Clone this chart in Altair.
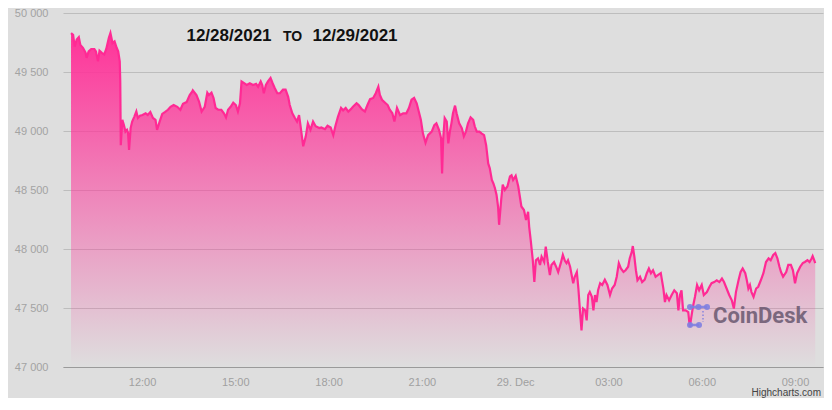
import altair as alt
import pandas as pd

# minutes since 2021-12-28 00:00
minutes = [
    583, 587, 590, 594, 598, 601, 606, 611, 613, 617,
    622, 628, 631, 635, 638, 643, 647, 651, 656, 659,
    663, 667, 671, 674, 677, 678, 679, 682, 685, 688,
    691, 693, 695, 698, 701, 705, 709, 712, 716, 721,
    727, 731, 736, 741, 746, 749, 754, 759, 764, 770,
    775, 781, 788, 794, 799, 806, 812, 817, 818, 825,
    830, 835, 841, 846, 849, 854, 858, 862, 867, 873,
    878, 882, 886, 891, 896, 901, 905, 909, 912, 917,
    922, 928, 934, 940, 944, 949, 952, 955, 959, 963,
    968, 972, 976, 981, 986, 992, 997, 1002, 1005, 1010,
    1015, 1019, 1023, 1026, 1031, 1036, 1040, 1045, 1050, 1055,
    1062, 1066, 1073, 1078, 1084, 1089, 1093, 1098, 1104, 1108,
    1113, 1118, 1123, 1127, 1134, 1138, 1144, 1150, 1155, 1160,
    1166, 1171, 1176, 1179, 1183, 1189, 1194, 1198, 1203, 1207,
    1210, 1212, 1218, 1224, 1230, 1235, 1240, 1245, 1250, 1254,
    1258, 1262, 1267, 1272, 1279, 1284, 1288, 1293, 1297, 1299,
    1301, 1304, 1308, 1311, 1314, 1317, 1320, 1324, 1327, 1332,
    1337, 1341, 1345, 1349, 1354, 1359, 1362, 1366, 1371, 1375,
    1380, 1384, 1388, 1391, 1395, 1398, 1401, 1404, 1407, 1409,
    1413, 1416, 1420, 1425, 1430, 1433, 1436, 1441, 1446, 1449,
    1452, 1457, 1461, 1465, 1467, 1470, 1474, 1477, 1480, 1484,
    1488, 1491, 1496, 1499, 1503, 1507, 1510, 1515, 1519, 1523,
    1528, 1532, 1536, 1539, 1542, 1546, 1549, 1552, 1555, 1559,
    1562, 1565, 1568, 1571, 1575, 1578, 1581, 1584, 1588, 1591,
    1594, 1597, 1600, 1604, 1608, 1613, 1618, 1623, 1627, 1632,
    1636, 1640, 1644, 1649, 1653, 1658, 1661, 1665, 1667, 1670,
    1673, 1676, 1681, 1685, 1690, 1694, 1698, 1702, 1706, 1711,
    1716, 1721, 1726, 1729, 1732, 1737, 1742, 1747, 1752, 1755,
    1758, 1761, 1764, 1769, 1774, 1777, 1783, 1787, 1791, 1795,
    1800, 1804, 1810, 1815, 1819, 1824, 1829, 1834, 1839, 1843,
    1848, 1853, 1858, 1862, 1866, 1871, 1875, 1879, 1884, 1887,
    1890, 1893, 1896, 1900, 1905, 1909, 1914, 1919, 1924, 1929,
    1933, 1938, 1942, 1946, 1950, 1953, 1957, 1963, 1967, 1972,
    1976, 1980, 1984, 1990, 1995, 1999, 2004, 2008, 2012, 2014,
    2017, 2019,
]

prices = [
    49830, 49815, 49715, 49775, 49795, 49730, 49705, 49665, 49620, 49675,
    49695, 49695, 49675, 49590, 49680, 49660, 49650, 49695, 49790, 49830,
    49745, 49760, 49705, 49675, 49590, 49420, 48880, 49095, 49050, 48995,
    49010, 48985, 48840, 49025, 49080, 49120, 49165, 49110, 49130, 49135,
    49150, 49135, 49160, 49110, 49095, 49010, 49080, 49145, 49160, 49180,
    49205, 49220, 49205, 49180, 49230, 49245, 49305, 49335, 49345, 49305,
    49250, 49165, 49205, 49325, 49305, 49325, 49280, 49195, 49180, 49180,
    49150, 49115, 49180, 49205, 49240, 49220, 49165, 49235, 49420, 49405,
    49390, 49405, 49390, 49400, 49375, 49420, 49390, 49320, 49390, 49420,
    49450, 49405, 49365, 49320, 49320, 49350, 49350, 49290, 49220, 49150,
    49110, 49080, 49135, 49040, 48870, 48955, 49065, 49010, 49080, 49040,
    49025, 49030, 49015, 49045, 49030, 48965, 49040, 49120, 49195, 49175,
    49195, 49165, 49185, 49205, 49235, 49220, 49185, 49165, 49220, 49270,
    49280, 49320, 49375, 49305, 49265, 49240, 49220, 49180, 49150, 49080,
    49150, 49195, 49135, 49150, 49150, 49195, 49265, 49280, 49235, 49165,
    49095, 48980, 48900, 48965, 48995, 49050, 49065, 49010, 48940, 48640,
    48925, 49110, 49080, 48895, 48995, 49065, 49150, 49215, 49150, 49065,
    49025, 48955, 48995, 49065, 49115, 49095, 49040, 48995, 48995, 48980,
    48965, 48880, 48725, 48685, 48585, 48555, 48515, 48460, 48360, 48205,
    48415, 48545, 48500, 48530, 48615, 48625, 48585, 48620, 48530, 48445,
    48360, 48330, 48245, 48315, 48190, 48075, 47905, 47720, 47905, 47920,
    47865, 47935, 47890, 48020, 47890, 47780, 47865, 47890, 47850, 47805,
    47880, 47950, 47900, 47880, 47905, 47850, 47780, 47710, 47765, 47805,
    47665, 47480, 47310, 47495, 47480, 47395, 47610, 47635, 47595, 47480,
    47610, 47550, 47650, 47710, 47695, 47740, 47695, 47610, 47665, 47695,
    47765, 47880, 47835, 47805, 47820, 47850, 47920, 47975, 48025, 47935,
    47820, 47735, 47765, 47720, 47740, 47795, 47835, 47795, 47820, 47765,
    47780, 47795, 47665, 47550, 47610, 47565, 47610, 47650, 47625, 47480,
    47610, 47650, 47480, 47480, 47465, 47340, 47510, 47595, 47695, 47650,
    47695, 47610, 47635, 47680, 47710, 47720, 47735, 47720, 47750, 47720,
    47665, 47610, 47565, 47495, 47635, 47735, 47805, 47835, 47795, 47735,
    47665, 47695, 47635, 47595, 47665, 47680, 47735, 47795, 47890, 47920,
    47905, 47950, 47965, 47920, 47850, 47805, 47765, 47805, 47865, 47865,
    47820, 47710, 47795, 47850, 47880, 47890, 47905, 47890, 47920, 47940,
    47905, 47880,
]

y_ticks = [47000, 47500, 48000, 48500, 49000, 49500, 50000]
x_tick_hours = [(28, 12), (28, 15), (28, 18), (28, 21), (29, 0), (29, 3), (29, 6), (29, 9)]

times = (pd.Timestamp("2021-12-28") + pd.to_timedelta(minutes, unit="m")).strftime("%Y-%m-%dT%H:%M:%S")
df = pd.DataFrame({"time": list(times), "price": prices})

FONT = "Liberation Sans"

x_values = [alt.DateTime(year=2021, month=12, date=d, hours=h) for d, h in x_tick_hours]

x_enc = alt.X(
    "time:T",
    scale=alt.Scale(domain=[
        alt.DateTime(year=2021, month=12, date=28, hours=9, minutes=27, seconds=30),
        alt.DateTime(year=2021, month=12, date=29, hours=9, minutes=54),
    ]),
    axis=alt.Axis(
        values=x_values,
        labelExpr="hours(datum.value) == 0 ? '29. Dec' : timeFormat(datum.value, '%H:%M')",
        title=None, grid=False, ticks=False, domainColor="#9a9a9a", domainWidth=1,
        labelColor="#a0a0a0", labelFontSize=11, labelFont=FONT, labelPadding=9,
        labelFlush=False, labelOverlap=False,
    ),
)
y_enc = alt.Y(
    "price:Q",
    scale=alt.Scale(domain=[47000, 50000], zero=False, nice=False),
    axis=alt.Axis(
        values=y_ticks,
        labelExpr="replace(format(datum.value, ','), ',', ' ')",
        title=None, domain=False, ticks=False, gridColor="#bdbdbd", gridWidth=1,
        labelColor="#a3a3a3", labelFontSize=11, labelFont=FONT, labelPadding=15,
    ),
)

gradient = alt.Gradient(
    gradient="linear", x1=0, y1=0, x2=0, y2=1,
    stops=[
        alt.GradientStop(color="rgba(255,51,153,1)", offset=0),
        alt.GradientStop(color="rgba(255,51,153,0.45)", offset=0.55),
        alt.GradientStop(color="rgba(255,51,153,0)", offset=1),
    ],
)

base = alt.Chart(df)
area = base.mark_area(color=gradient).encode(x=x_enc, y=y_enc, y2=alt.datum(47000))
line = base.mark_line(color="#ff2a94", strokeWidth=2.2).encode(x="time:T", y="price:Q")

dec = pd.DataFrame({"k": [0]})

def txt(text, x, y, size, weight="bold", color="#111111", align="center", opacity=1.0, font=FONT):
    return alt.Chart(dec).mark_text(
        text=text, font=font, fontSize=size, fontWeight=weight, color=color,
        align=align, baseline="middle", opacity=opacity,
    ).encode(x=alt.value(x), y=alt.value(y))

t1 = txt("12/28/2021", 166, 23, 17)
t2 = txt("TO", 229.5, 24, 14)
t3 = txt("12/29/2021", 292, 23, 17)
brand = txt("CoinDesk", 650, 303, 22, color="#6a5870", align="left", opacity=0.85, font="Roboto")
credit = txt("Highcharts.com", 758, 380, 10, weight="normal", color="#444444", align="right")

logo_col = "#7f80e0"
def rule(x1, x2, y1, y2, dash=None, w=2.5):
    kw = dict(color=logo_col, strokeWidth=w, opacity=0.9)
    if dash:
        kw["strokeDash"] = dash
    return alt.Chart(dec).mark_rule(**kw).encode(
        x=alt.value(x1), x2=alt.value(x2), y=alt.value(y1), y2=alt.value(y2))

def dot(x, y):
    return alt.Chart(dec).mark_point(filled=True, size=36, color=logo_col, opacity=0.9).encode(
        x=alt.value(x), y=alt.value(y))

logo = [
    rule(627, 644, 294, 294), rule(627, 636, 312, 312),
    rule(640, 640, 298, 309, dash=[1.5, 2], w=1.5),
    dot(627, 294), dot(635.5, 294), dot(644, 294), dot(627, 312), dot(636, 312),
]

chart = alt.layer(area, line, t1, t2, t3, brand, credit, *logo).properties(
    width=760, height=354,
    autosize=alt.AutoSizeParams(type="none"),
    padding={"left": 55, "top": 5, "right": 1, "bottom": 31},
).configure(background="#dedede").configure_view(stroke=None)

chart.save("out.html", embed_options={"renderer": "svg", "actions": False})
